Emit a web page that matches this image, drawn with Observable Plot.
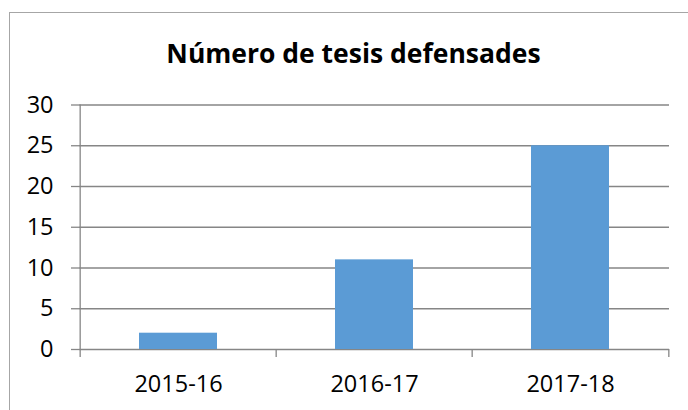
<!DOCTYPE html>
<html>
<head>
<meta charset="utf-8">
<script src="https://cdn.jsdelivr.net/npm/d3@7"></script>
<script src="https://cdn.jsdelivr.net/npm/@observablehq/plot@0.6"></script>
<style>
  html, body { margin: 0; padding: 0; background: #fff; }
  #wrap { position: relative; width: 688px; height: 410px; overflow: hidden; }
  #frame { position: absolute; left: 9px; top: 12px; width: 720px; height: 440px; border: 1px solid #a6a6a6; box-sizing: border-box; pointer-events: none; }
  #title { position: absolute; left: 0; width: 707px; top: 35px; line-height: 36px; text-align: center; font-family: "Open Sans", sans-serif; font-weight: bold; font-size: 26.5px; color: #000; }
  #chart { position: absolute; left: 0; top: 0; }
</style>
</head>
<body>
<div id="wrap">
  <div id="frame"></div>
  <div id="title"></div>
  <div id="chart"></div>
</div>
<script>
const categories = ["2015-16", "2016-17", "2017-18"];
const values = [2, 11, 25];
const yTicks = [0, 5, 10, 15, 20, 25, 30];
const titleText = "Número de tesis defensades";

document.getElementById("title").textContent = titleText;

const data = categories.map((c, i) => ({cat: c, value: values[i]}));

const W = 688, H = 410;
const mL = 79, mR = 19, mT = 104.5, mB = 61;
const step = (W - mL - mR) / categories.length;
const gridColor = "#868686";
const fs = 23.5;

const chart = Plot.plot({
  width: W,
  height: H,
  marginLeft: mL,
  marginRight: mR,
  marginTop: mT,
  marginBottom: mB,
  style: {background: "transparent", fontFamily: "Open Sans, sans-serif", fontSize: fs + "px", color: "#000", overflow: "visible"},
  x: {type: "band", domain: categories, paddingInner: 0.6, paddingOuter: 0.3},
  y: {domain: [0, 30]},
  marks: [
    Plot.ruleY(yTicks, {stroke: gridColor, strokeWidth: 1.3}),
    Plot.barY(data, {x: "cat", y: "value", fill: "#5B9BD5"}),
    Plot.ruleX([categories[0]], {x: d => d, dx: -step / 2, y1: 0, y2: 30, stroke: gridColor, strokeWidth: 1.3}),
    Plot.ruleX(categories, {x: d => d, dx: -step / 2, y1: 0, y2: 0, insetBottom: -8, stroke: gridColor, strokeWidth: 1.3}),
    Plot.ruleX([categories[categories.length - 1]], {x: d => d, dx: step / 2, y1: 0, y2: 0, insetBottom: -8, stroke: gridColor, strokeWidth: 1.3}),
    Plot.axisY({ticks: yTicks, tickSize: 8, tickPadding: 18, stroke: gridColor, strokeWidth: 1.3, label: null, fill: "#000", fontSize: fs}),
    Plot.axisX({tickSize: 0, tickPadding: 26, label: null, fill: "#000", fontSize: fs})
  ]
});

document.getElementById("chart").appendChild(chart);
</script>
</body>
</html>
